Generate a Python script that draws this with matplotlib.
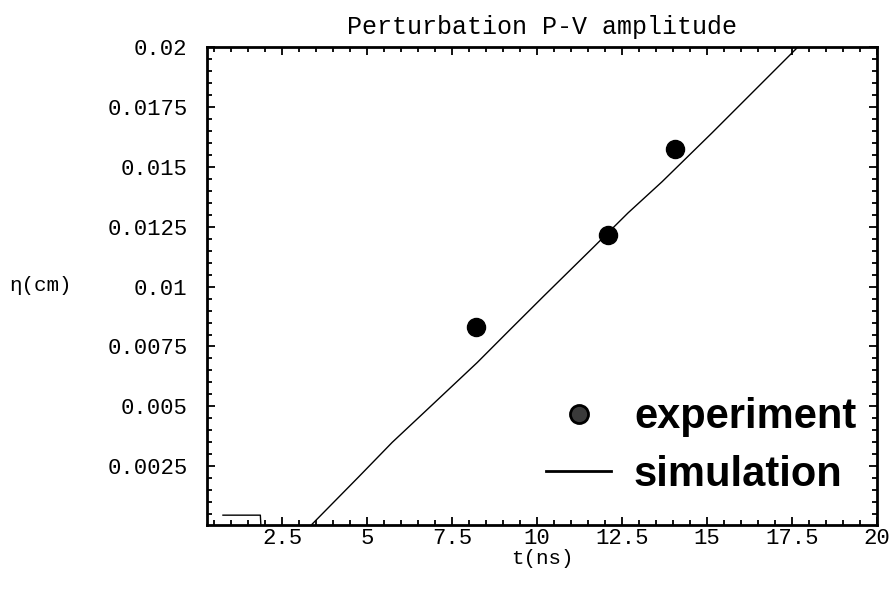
import numpy as np
import matplotlib.pyplot as plt
from matplotlib.lines import Line2D
from matplotlib.ticker import MultipleLocator

# experiment points
t_exp = [8.2, 12.1, 14.05]
eta_exp = [0.0083, 0.01217, 0.01575]

# simulation curve (clipped below 0 by the axes)
t_sim = [0.76, 1.86, 1.90, 3.30, 3.38, 4.74, 5.74, 6.71, 8.24, 9.21,
         10.18, 11.65, 12.68, 13.68, 15.15, 17.59, 18.5]
eta_sim = [0.00046, 0.00046, -0.0006, -0.0006, 0.00008, 0.00204, 0.0035,
           0.00479, 0.00683, 0.00821, 0.00958, 0.01163, 0.01308, 0.01438,
           0.01642, 0.01988, 0.0212]

x_ticks = [2.5, 5, 7.5, 10, 12.5, 15, 17.5, 20]
x_labels = ["2.5", "5", "7.5", "10", "12.5", "15", "17.5", "20"]
y_ticks = [0.0025, 0.005, 0.0075, 0.01, 0.0125, 0.015, 0.0175, 0.02]
y_labels = ["0.0025", "0.005", "0.0075", "0.01", "0.0125", "0.015", "0.0175", "0.02"]

MONO = "Liberation Mono"

fig = plt.figure(figsize=(8.96, 5.91), dpi=100)
ax = fig.add_axes([0.231, 0.1117, 0.7478, 0.8088])

ax.plot(t_sim, eta_sim, color="black", lw=1.0, zorder=2)
ax.plot(t_exp, eta_exp, "o", color="black", ms=13, zorder=3)

ax.set_xlim(0.29, 20)
ax.set_ylim(0.00005, 0.02)

ax.set_xticks(x_ticks)
ax.set_xticklabels(x_labels, family=MONO, fontsize=16)
ax.set_yticks(y_ticks)
ax.set_yticklabels(y_labels, family=MONO, fontsize=16)
ax.xaxis.set_minor_locator(MultipleLocator(0.5))
ax.yaxis.set_minor_locator(MultipleLocator(0.0005))
ax.tick_params(which="both", direction="in", top=True, right=True, width=1.3)
ax.tick_params(which="major", length=6)
ax.tick_params(which="minor", length=3.5)
ax.tick_params(axis="x", pad=2)
ax.tick_params(axis="y", pad=14)
for s in ax.spines.values():
    s.set_linewidth(2)

ax.set_title("Perturbation P-V amplitude", family=MONO, fontsize=18, pad=9)
ax.set_xlabel("t(ns)", family=MONO, fontsize=15, labelpad=0)
ax.set_ylabel("η(cm)", family=MONO, fontsize=15, rotation=0, labelpad=48, va="center")

handles = [
    Line2D([], [], ls="none", marker="o", ms=13, mfc="#3a3a3a", mec="black", mew=2),
    Line2D([], [], color="black", lw=2),
]
ax.legend(handles, ["experiment", "simulation"], loc="lower right",
          bbox_to_anchor=(1.0, 0.02), frameon=False,
          prop={"family": "Liberation Sans", "weight": "bold", "size": 30},
          handlelength=1.55, handletextpad=0.55, labelspacing=0.42, borderpad=0)

fig.savefig("out.png", dpi=100)
